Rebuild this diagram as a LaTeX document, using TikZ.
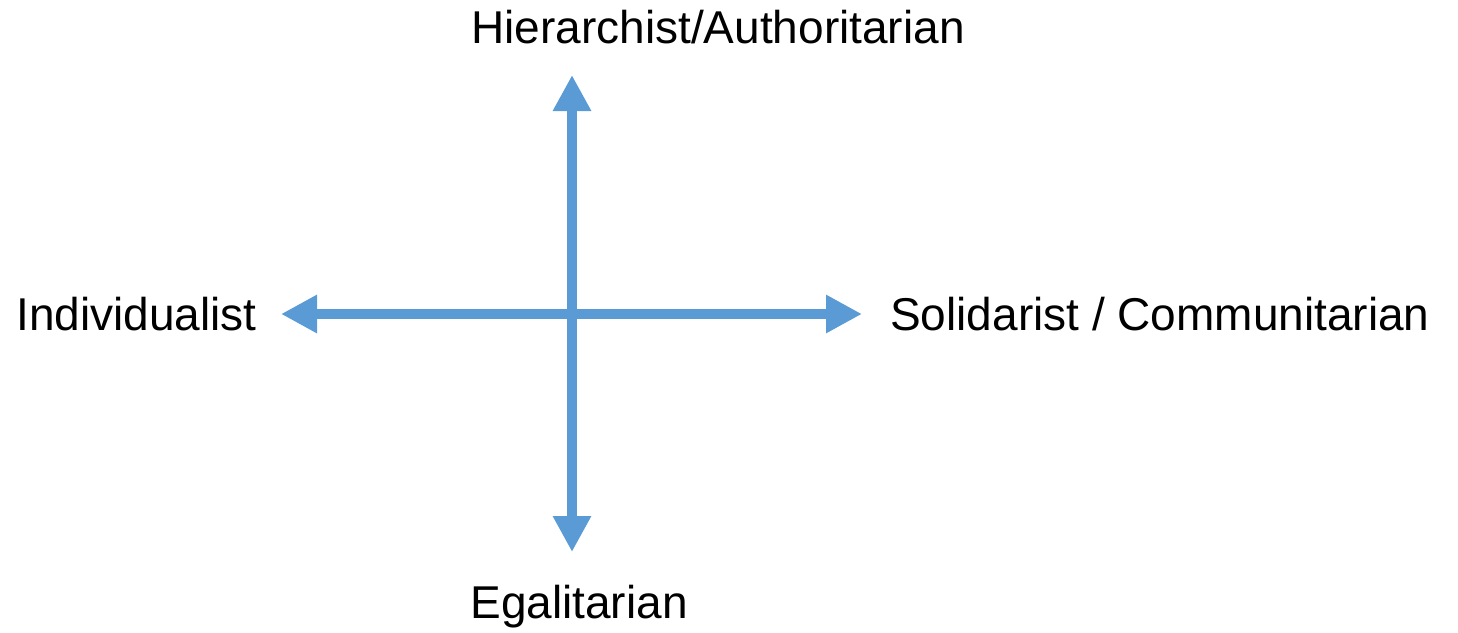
\documentclass[tikz,border=0pt]{standalone}
\usepackage{fontspec}
\setmainfont{Liberation Sans}
\usetikzlibrary{arrows.meta, positioning}
\definecolor{axisblue}{HTML}{5B9BD5}
\tikzset{axis/.style={axisblue, line width=10pt,
    {Triangle[length=36pt,width=36pt]}-{Triangle[length=36pt,width=36pt]}},
  pole/.style={inner sep=0pt, font=\fontsize{46}{55}\selectfont}}

\begin{document}
\begin{tikzpicture}[x=1pt, y=-1pt]
  \useasboundingbox (0,0) rectangle (1458,632);

  % ends of the two axes
  \coordinate (top) at (572,75);
  \coordinate (bot) at (572,552);
  \coordinate (lft) at (281,314);
  \coordinate (rgt) at (862,314);

  \node[pole] (hier) at (718,27) {Hierarchist/Authoritarian};
  \node[pole] (egal) at (579,607) {Egalitarian};
  \node[pole, anchor=east] (indiv) at (257,314) {Individualist};
  \node[pole, anchor=west] (solid) at (890,314) {Solidarist / Communitarian};

  \draw[axis] (bot) -- (top);
  \draw[axis] (lft) -- (rgt);
\end{tikzpicture}
\end{document}
